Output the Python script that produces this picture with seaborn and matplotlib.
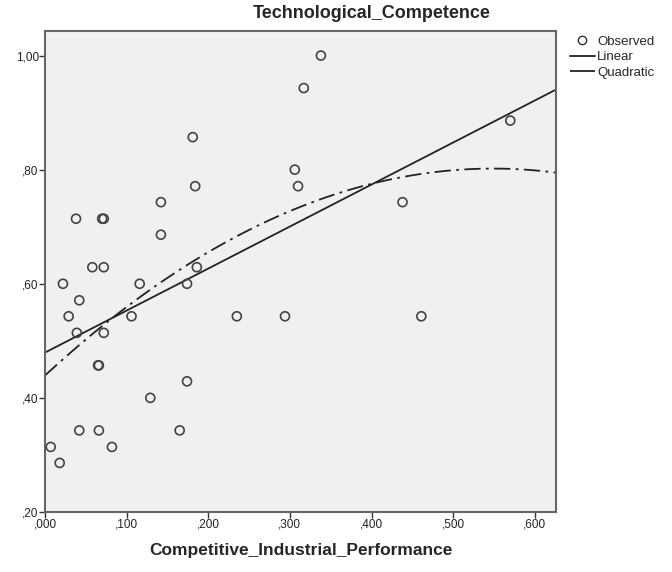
import numpy as np
import pandas as pd
import seaborn as sns
from matplotlib import pyplot as plt
from matplotlib.lines import Line2D

# values
cip = [0.338, 0.317, 0.181, 0.306, 0.184, 0.310, 0.570, 0.438, 0.142, 0.038,
       0.070, 0.072, 0.142, 0.058, 0.072, 0.186, 0.022, 0.116, 0.174, 0.042,
       0.029, 0.106, 0.235, 0.294, 0.461, 0.039, 0.072, 0.065, 0.066, 0.174,
       0.129, 0.042, 0.066, 0.165, 0.007, 0.082, 0.018]
tech = [1.000, 0.943, 0.857, 0.800, 0.771, 0.771, 0.886, 0.743, 0.743, 0.714,
        0.714, 0.714, 0.686, 0.629, 0.629, 0.629, 0.600, 0.600, 0.600, 0.571,
        0.543, 0.543, 0.543, 0.543, 0.543, 0.514, 0.514, 0.457, 0.457, 0.429,
        0.400, 0.343, 0.343, 0.343, 0.314, 0.314, 0.286]

x_ticks = [0.0, 0.1, 0.2, 0.3, 0.4, 0.5, 0.6]
x_labels = [",000", ",100", ",200", ",300", ",400", ",500", ",600"]
y_ticks = [0.2, 0.4, 0.6, 0.8, 1.0]
y_labels = [",20", ",40", ",60", ",80", "1,00"]

df = pd.DataFrame({"Competitive_Industrial_Performance": cip,
                   "Technological_Competence": tech})

sns.set_style("white")
plt.rcParams["font.family"] = ["Liberation Sans", "DejaVu Sans"]

fig = plt.figure(figsize=(6.72, 5.72), dpi=100)
ax = fig.add_axes([45 / 672, 1 - 512 / 572, (556 - 45) / 672, (512 - 31) / 572])
ax.set_facecolor("#f0f0f0")
ax.set_xlim(0, 0.626)
ax.set_ylim(0.2, 1.043)

xc, yc = "Competitive_Industrial_Performance", "Technological_Competence"
quad_ls = (0, (9, 3, 1.5, 3))

# fits first so they span the whole axis (truncate=False uses current xlim)
sns.regplot(data=df, x=xc, y=yc, ax=ax, scatter=False, ci=None, truncate=False,
            line_kws={"color": "#222222", "lw": 1.3})
sns.regplot(data=df, x=xc, y=yc, ax=ax, scatter=False, ci=None, truncate=False,
            order=2, line_kws={"color": "#222222", "lw": 1.3, "ls": quad_ls})
sns.scatterplot(data=df, x=xc, y=yc, ax=ax, s=42, facecolor="none",
                edgecolor="#444444", linewidth=1.2, zorder=3)

ax.set_xlim(0, 0.626)
ax.set_ylim(0.2, 1.043)
ax.set_xticks(x_ticks)
ax.set_xticklabels(x_labels)
ax.set_yticks(y_ticks)
ax.set_yticklabels(y_labels)
ax.tick_params(axis="both", direction="out", length=4, width=1, color="#333333",
               labelsize=8.5, labelcolor="#222222", pad=0.5, left=True, bottom=True)
for side in ["left", "bottom", "top", "right"]:
    ax.spines[side].set_color("#666666")
    ax.spines[side].set_linewidth(1.5)

ax.set_xlabel("Competitive_Industrial_Performance", fontsize=12.5, fontweight="bold",
              labelpad=9)
ax.set_ylabel("")
fig.text(372 / 672, 1 - 13 / 572, "Technological_Competence", fontsize=13,
         fontweight="bold", ha="center", va="center")

handles = [Line2D([], [], marker="o", ls="none", mfc="none", mec="#333333", ms=6),
           Line2D([], [], color="#222222", lw=1.3),
           Line2D([], [], color="#222222", lw=1.3, ls=(0, (14, 2, 1.5, 2)))]
fig.legend(handles, ["Observed", "Linear", "Quadratic"], loc="upper left",
           bbox_to_anchor=(563 / 672, 1 - 29 / 572), frameon=False, fontsize=9.5,
           handlelength=1.9, handletextpad=0.2, labelspacing=0.24, borderpad=0)

fig.savefig("out.png", dpi=100)
